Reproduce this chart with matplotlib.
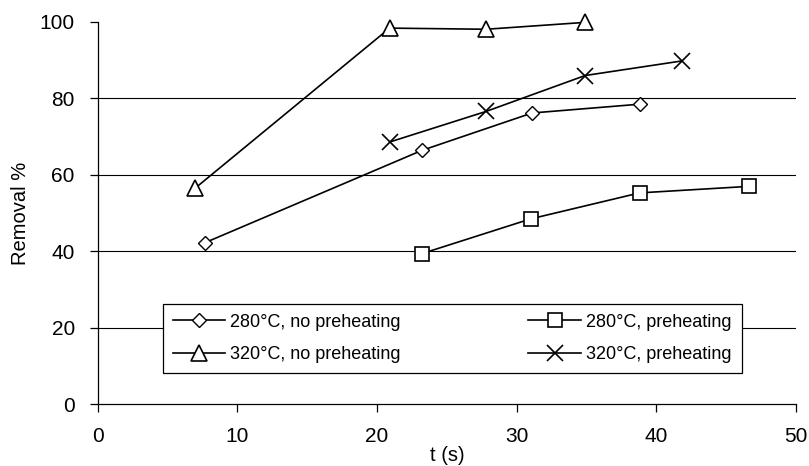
import matplotlib
matplotlib.use("Agg")
import matplotlib.pyplot as plt

plt.rcParams['font.family'] = ['Liberation Sans', 'DejaVu Sans']

# values
t_280_no = [7.7, 23.2, 31.1, 38.8]
r_280_no = [42.3, 66.4, 76.2, 78.5]

t_280_pre = [23.2, 31.0, 38.8, 46.6]
r_280_pre = [39.4, 48.5, 55.3, 57.0]

t_320_no = [7.0, 20.9, 27.8, 34.9]
r_320_no = [56.6, 98.4, 98.1, 99.9]

t_320_pre = [20.9, 27.8, 34.9, 41.8]
r_320_pre = [68.6, 76.6, 86.0, 89.8]

x_ticks = [0, 10, 20, 30, 40, 50]
y_ticks = [0, 20, 40, 60, 80, 100]

fig = plt.figure(figsize=(8.09, 4.66), dpi=100)
ax = fig.add_axes([0.1208, 0.1324, 0.8632, 0.8204])

# horizontal grid lines (none at the top value)
for y in y_ticks[1:-1]:
    ax.axhline(y, color='black', lw=0.8, zorder=1)

line_kw = dict(color='black', lw=1.2, mfc='white', mec='black', zorder=3,
               clip_on=False)
l1, = ax.plot(t_280_no, r_280_no, marker='D', ms=7, mew=1.0,
              label='280°C, no preheating', **line_kw)
l2, = ax.plot(t_280_pre, r_280_pre, marker='s', ms=10, mew=1.2,
              label='280°C, preheating', **line_kw)
l3, = ax.plot(t_320_no, r_320_no, marker='^', ms=11, mew=1.2,
              label='320°C, no preheating', **line_kw)
l4, = ax.plot(t_320_pre, r_320_pre, marker='x', ms=11, mew=1.2,
              label='320°C, preheating', **line_kw)

ax.set_xlim(0, 50)
ax.set_ylim(0, 100)
ax.set_xticks(x_ticks)
ax.set_yticks(y_ticks)
ax.tick_params(axis='both', direction='out', length=5.5, width=0.9,
               labelsize=15, colors='black')
ax.tick_params(axis='y', pad=11)
ax.tick_params(axis='x', pad=11)

for side in ['top', 'right']:
    ax.spines[side].set_visible(False)
for side in ['left', 'bottom']:
    ax.spines[side].set_linewidth(0.9)
    ax.spines[side].set_color('black')

ax.set_xlabel('t (s)', fontsize=14.5, labelpad=0)
ax.set_ylabel('Removal %', fontsize=14.5, labelpad=7)

leg = ax.legend(handles=[l1, l3, l2, l4], ncol=2, loc='center',
                bbox_to_anchor=(0.093, 0.0835, 0.829, 0.178), mode='expand',
                fontsize=13, frameon=True, fancybox=False, framealpha=1,
                edgecolor='black', handlelength=2.9, handletextpad=0.3,
                labelspacing=0.85, borderpad=0.55, borderaxespad=0)
leg.get_frame().set_linewidth(0.9)
leg.set_zorder(5)

fig.savefig('out.png', dpi=100)
